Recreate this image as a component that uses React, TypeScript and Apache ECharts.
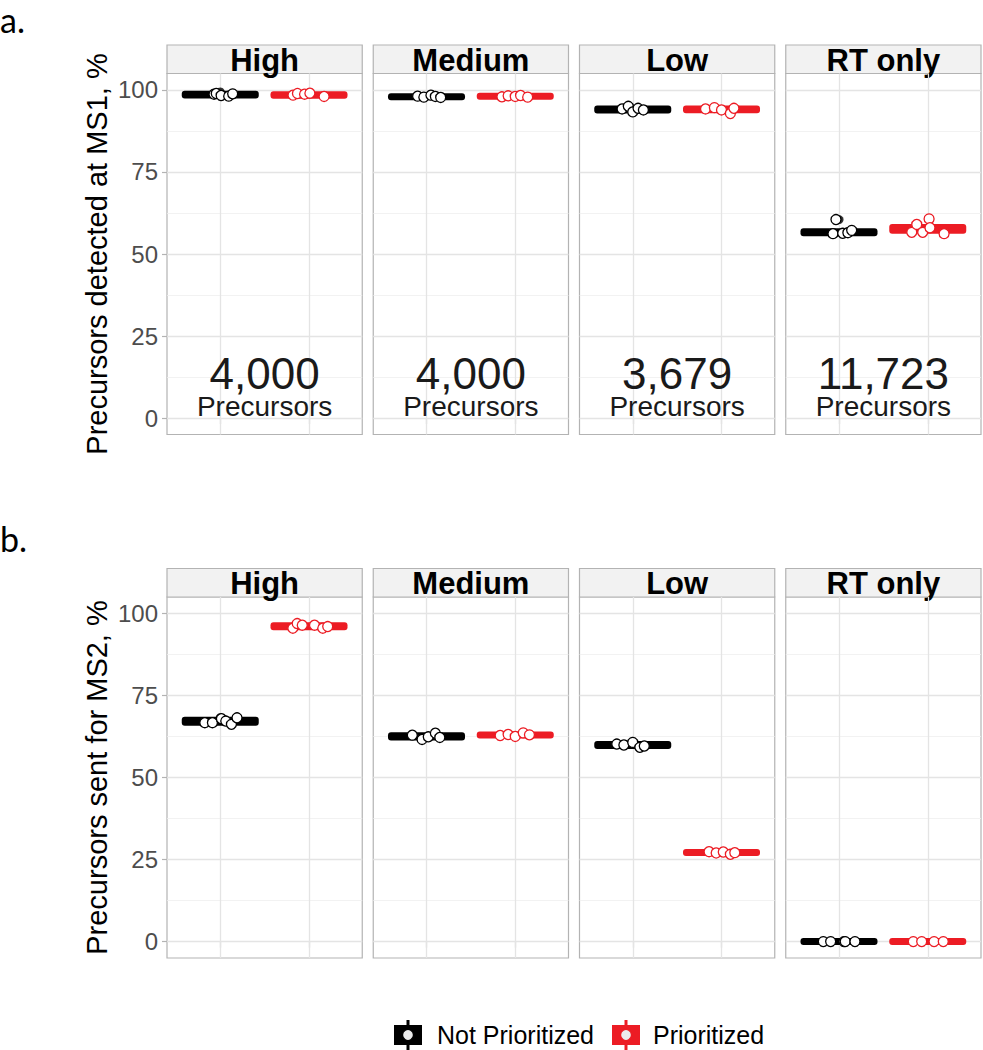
import { useEffect, useRef } from "react";
import * as echarts from "echarts";

// ---------- data ----------
const facets = ["High", "Medium", "Low", "RT only"];
const groups = ["Not Prioritized", "Prioritized"];
const groupColors = ["#000000", "#EC1C24"];
const precursorCounts = ["4,000", "4,000", "3,679", "11,723"];
const yTicks = [0, 25, 50, 75, 100];
const yMinor = [12.5, 37.5, 62.5, 87.5];
const xPositions = [1, 2];

// Panel a: precursors detected at MS1 (%) — points per facet
const ms1NotPrioritized = [
  [98.7, 98.9, 98.3, 98.1, 98.8],
  [98.1, 97.8, 98.4, 98.0, 97.7],
  [94.2, 95.0, 93.3, 94.4, 93.9],
  [60.5, 56.2, 56.3, 56.5, 57.2],
];
const ms1NotPrioritizedJitter = [
  [-0.07, -0.045, 0.01, 0.095, 0.14],
  [-0.1, -0.03, 0.05, 0.1, 0.16],
  [-0.12, -0.05, 0.0, 0.06, 0.12],
  [-0.034, -0.068, 0.042, 0.1, 0.143],
];
const ms1Prioritized = [
  [98.4, 98.9, 98.7, 99.0, 98.0],
  [97.9, 98.2, 98.0, 98.3, 97.8],
  [94.2, 94.6, 93.9, 92.8, 94.4],
  [56.6, 59.0, 56.6, 60.7, 58.0, 56.2],
];
const ms1PrioritizedJitter = [
  [-0.18, -0.13, -0.05, 0.01, 0.17],
  [-0.15, -0.08, 0.0, 0.06, 0.14],
  [-0.18, -0.08, 0.0, 0.1, 0.14],
  [-0.18, -0.124, -0.057, 0.015, 0.025, 0.184],
];
// box stats [q1, median, q3]
const ms1BoxNotPrioritized = [
  [98.3, 98.6, 98.8],
  [97.8, 98.0, 98.1],
  [93.7, 94.0, 94.3],
  [56.3, 56.5, 56.9],
];
const ms1BoxPrioritized = [
  [98.2, 98.5, 98.7],
  [97.9, 98.0, 98.2],
  [93.8, 94.1, 94.3],
  [57.1, 57.5, 58.2],
];
const ms1OutliersNotPrioritized = [[99.4], [], [], [60.5]];
const ms1OutliersPrioritized = [[], [], [], []];

// Panel b: precursors sent for MS2 (%)
const ms2NotPrioritized = [
  [66.7, 66.7, 67.9, 67.2, 66.2, 68.2],
  [62.9, 61.6, 62.4, 63.5, 62.2],
  [60.2, 59.9, 60.7, 59.2, 59.6],
  [0, 0, 0, 0, 0],
];
const ms2NotPrioritizedJitter = [
  [-0.174, -0.088, 0.013, 0.062, 0.126, 0.189],
  [-0.16, -0.05, 0.02, 0.1, 0.15],
  [-0.18, -0.1, 0.0, 0.08, 0.13],
  [-0.177, -0.094, 0.056, 0.07, 0.18],
];
const ms2Prioritized = [
  [95.5, 96.9, 96.4, 96.4, 95.5, 96.0],
  [62.8, 63.1, 62.5, 63.6, 63.0],
  [27.4, 27.0, 27.3, 26.6, 27.1],
  [0, 0, 0, 0],
];
const ms2PrioritizedJitter = [
  [-0.182, -0.133, -0.076, 0.062, 0.155, 0.211],
  [-0.17, -0.08, 0.0, 0.09, 0.16],
  [-0.14, -0.06, 0.02, 0.1, 0.15],
  [-0.163, -0.068, 0.071, 0.175],
];
const ms2BoxNotPrioritized = [
  [66.7, 67.0, 67.6],
  [62.2, 62.5, 62.9],
  [59.6, 59.9, 60.2],
  [0, 0, 0],
];
const ms2BoxPrioritized = [
  [95.8, 96.2, 96.4],
  [62.8, 63.0, 63.1],
  [27.0, 27.1, 27.3],
  [0, 0, 0],
];
const ms2OutliersNotPrioritized = [[68.2], [], [], []];
const ms2OutliersPrioritized = [[], [], [], []];

const rowTitles = ["Precursors detected at MS1, %", "Precursors sent for MS2, %"];
const rowTags = ["a.", "b."];

// ---------- layout ----------
const PANEL_LEFTS = [167, 373.25, 579.5, 785.75];
const PANEL_W = 195.25;
const ROW_TOPS = [73.5, 597];
const PANEL_H = 361;
const STRIP_H = 28.5;
const FONT = "'Liberation Sans', Arial, Helvetica, sans-serif";
const BORDER = "#b3b3b3";

const rows = [
  {
    np: ms1NotPrioritized, npJ: ms1NotPrioritizedJitter, p: ms1Prioritized, pJ: ms1PrioritizedJitter,
    npBox: ms1BoxNotPrioritized, pBox: ms1BoxPrioritized,
    npOut: ms1OutliersNotPrioritized, pOut: ms1OutliersPrioritized,
  },
  {
    np: ms2NotPrioritized, npJ: ms2NotPrioritizedJitter, p: ms2Prioritized, pJ: ms2PrioritizedJitter,
    npBox: ms2BoxNotPrioritized, pBox: ms2BoxPrioritized,
    npOut: ms2OutliersNotPrioritized, pOut: ms2OutliersPrioritized,
  },
];

function buildOption() {
  const grid: any[] = [];
  const xAxis: any[] = [];
  const yAxis: any[] = [];
  const series: any[] = [];
  const graphic: any[] = [];

  rows.forEach((row, r) => {
    facets.forEach((facet, c) => {
      const gi = r * 4 + c;
      grid.push({
        left: PANEL_LEFTS[c],
        top: ROW_TOPS[r],
        width: PANEL_W,
        height: PANEL_H,
        show: true,
        backgroundColor: "#ffffff",
        borderColor: BORDER,
        borderWidth: 1.2,
      });
      xAxis.push({
        gridIndex: gi,
        type: "value",
        min: 0.4,
        max: 2.6,
        axisLine: { show: false },
        axisLabel: { show: false },
        splitLine: { show: false },
        axisTick: { show: true, customValues: xPositions, length: 6, lineStyle: { color: BORDER, width: 1.2 } },
      });
      yAxis.push({
        gridIndex: gi,
        type: "value",
        min: -5,
        max: 105,
        axisLine: { show: false },
        splitLine: { show: false },
        axisLabel:
          c === 0
            ? { show: true, customValues: yTicks, color: "#4d4d4d", fontSize: 24, margin: 9, fontFamily: FONT }
            : { show: false },
        axisTick:
          c === 0
            ? { show: true, customValues: yTicks, length: 5, lineStyle: { color: BORDER, width: 1.2 } }
            : { show: false },
      });

      // grid lines
      const major = { color: "#e4e4e4", width: 1.3, type: "solid" };
      const minor = { color: "#efefef", width: 0.8, type: "solid" };
      series.push({
        type: "line",
        xAxisIndex: gi,
        yAxisIndex: gi,
        data: [],
        silent: true,
        z: 1,
        markLine: {
          z: 1,
          silent: true,
          symbol: ["none", "none"],
          label: { show: false },
          emphasis: { disabled: true },
          data: [
            ...yMinor.map((v) => ({ yAxis: v, lineStyle: minor })),
            ...yTicks.map((v) => ({ yAxis: v, lineStyle: major })),
            ...xPositions.map((v) => ({ xAxis: v, lineStyle: major })),
          ],
        },
      });

      // boxes
      const boxData = [
        [xPositions[0], ...row.npBox[c], 0],
        [xPositions[1], ...row.pBox[c], 1],
      ];
      series.push({
        type: "custom",
        xAxisIndex: gi,
        yAxisIndex: gi,
        z: 10,
        silent: true,
        data: boxData,
        renderItem: (params: any, api: any) => {
          const x = api.value(0);
          const q1 = api.value(1);
          const q3 = api.value(3);
          const color = groupColors[api.value(4)];
          const pTL = api.coord([x - 0.4, q3]);
          const pBR = api.coord([x + 0.4, q1]);
          const h = Math.max(1, pBR[1] - pTL[1]);
          const cy = (pTL[1] + pBR[1]) / 2;
          return {
            type: "rect",
            shape: { x: pTL[0], y: cy - h / 2, width: pBR[0] - pTL[0], height: h },
            style: { fill: color, stroke: color, lineWidth: 6, lineJoin: "round" },
          };
        },
      });

      // outliers
      [row.npOut[c], row.pOut[c]].forEach((outs, g) => {
        series.push({
          type: "scatter",
          xAxisIndex: gi,
          yAxisIndex: gi,
          z: 11,
          silent: true,
          symbol: "circle",
          symbolSize: 9,
          itemStyle: { color: groupColors[g] },
          data: outs.map((v) => [xPositions[g], v]),
        });
      });

      // jittered points
      [
        [row.np[c], row.npJ[c]],
        [row.p[c], row.pJ[c]],
      ].forEach(([vals, jit], g) => {
        series.push({
          type: "scatter",
          xAxisIndex: gi,
          yAxisIndex: gi,
          z: 12,
          silent: true,
          symbol: "circle",
          symbolSize: 10,
          itemStyle: { color: "#ffffff", borderColor: groupColors[g], borderWidth: 1.3, opacity: 1 },
          data: (vals as number[]).map((v, k) => [xPositions[g] + (jit as number[])[k], v]),
        });
      });

      // precursor counts (row a only)
      if (r === 0) {
        series.push({
          type: "custom",
          xAxisIndex: gi,
          yAxisIndex: gi,
          z: 13,
          silent: true,
          data: [[1.5, 13.6, 3.6]],
          renderItem: (params: any, api: any) => {
            const p1 = api.coord([api.value(0), api.value(1)]);
            const p2 = api.coord([api.value(0), api.value(2)]);
            return {
              type: "group",
              children: [
                {
                  type: "text",
                  x: p1[0],
                  y: p1[1],
                  style: {
                    text: precursorCounts[c],
                    fill: "#1a1a1a",
                    font: `44px ${FONT}`,
                    align: "center",
                    verticalAlign: "middle",
                  },
                },
                {
                  type: "text",
                  x: p2[0],
                  y: p2[1],
                  style: {
                    text: "Precursors",
                    fill: "#1a1a1a",
                    font: `28px ${FONT}`,
                    align: "center",
                    verticalAlign: "middle",
                  },
                },
              ],
            };
          },
        });
      }

      // strip
      graphic.push({
        type: "rect",
        shape: { x: PANEL_LEFTS[c], y: ROW_TOPS[r] - STRIP_H, width: PANEL_W, height: STRIP_H },
        style: { fill: "#f2f2f2", stroke: BORDER, lineWidth: 1.2 },
        silent: true,
      });
      graphic.push({
        type: "text",
        x: PANEL_LEFTS[c] + PANEL_W / 2,
        y: ROW_TOPS[r] - STRIP_H / 2 + 1,
        style: {
          text: facet,
          fill: "#000000",
          font: `bold 31px ${FONT}`,
          align: "center",
          verticalAlign: "middle",
        },
        silent: true,
      });
    });

    // axis title
    graphic.push({
      type: "text",
      x: 97,
      y: ROW_TOPS[r] + PANEL_H / 2,
      rotation: Math.PI / 2,
      style: {
        text: rowTitles[r],
        fill: "#000000",
        font: `29px ${FONT}`,
        align: "center",
        verticalAlign: "middle",
      },
      silent: true,
    });
    // row tag
    graphic.push({
      type: "text",
      x: 0,
      y: r === 0 ? 19 : 538,
      style: {
        text: rowTags[r],
        fill: "#000000",
        font: `34px Lato, 'Open Sans', sans-serif`,
        align: "left",
        verticalAlign: "middle",
      },
      silent: true,
    });
  });

  // legend
  const legendItems = [
    { x: 394, textX: 437 },
    { x: 612, textX: 653 },
  ];
  legendItems.forEach((it, g) => {
    const col = groupColors[g];
    const cy = 1035;
    graphic.push({
      type: "group",
      silent: true,
      children: [
        { type: "line", shape: { x1: it.x + 14, y1: cy - 15, x2: it.x + 14, y2: cy + 15 }, style: { stroke: col, lineWidth: 3 } },
        { type: "rect", shape: { x: it.x + 1.5, y: cy - 8.5, width: 25, height: 17 }, style: { fill: col, stroke: col, lineWidth: 3 } },
        { type: "circle", shape: { cx: it.x + 14, cy, r: 5.5 }, style: { fill: "#ececec", stroke: col, lineWidth: 1.3 } },
        {
          type: "text",
          x: it.textX,
          y: cy,
          style: { text: groups[g], fill: "#000000", font: `25px ${FONT}`, align: "left", verticalAlign: "middle" },
        },
      ],
    });
  });

  return {
    animation: false,
    backgroundColor: "#ffffff",
    grid,
    xAxis,
    yAxis,
    series,
    graphic,
  };
}

export default function App() {
  const ref = useRef<HTMLDivElement>(null);
  useEffect(() => {
    if (!ref.current) return;
    const chart = echarts.init(ref.current, undefined, { renderer: "svg" });
    chart.setOption(buildOption() as any);
    return () => chart.dispose();
  }, []);
  return (
    <div
      ref={ref}
      style={{ position: "absolute", left: 0, top: 0, width: 983, height: 1050, background: "#ffffff" }}
    />
  );
}
